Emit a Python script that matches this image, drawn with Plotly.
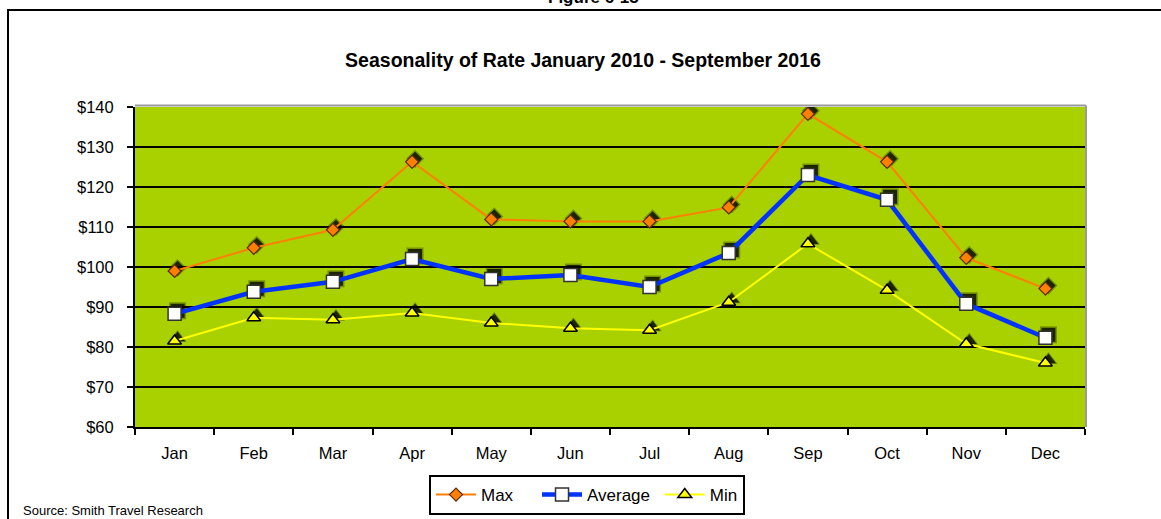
import plotly.graph_objects as go

months = ["Jan", "Feb", "Mar", "Apr", "May", "Jun",
          "Jul", "Aug", "Sep", "Oct", "Nov", "Dec"]
rate_max = [99.0, 104.8, 109.3, 126.3, 111.9, 111.4, 111.4, 114.9, 138.3, 126.3, 102.3, 94.6]
rate_avg = [88.3, 93.8, 96.3, 102.0, 97.0, 98.0, 95.0, 103.5, 123.0, 116.8, 90.8, 82.3]
rate_min = [81.5, 87.3, 86.8, 88.5, 86.0, 84.7, 84.2, 91.2, 105.8, 94.2, 80.8, 76.0]
y_ticks = [60, 70, 80, 90, 100, 110, 120, 130, 140]
y_tick_text = ["$" + str(v) for v in y_ticks]

FONT = "Liberation Sans, Arial, sans-serif"
W, H = 1161, 519
L, R, T, B = 135, 76, 107, 92
plot_w, plot_h = W - L - R, H - T - B

y_lo, y_hi = 60, 140
n = len(months)
# drop-shadow offset in pixels, converted to axis units
sx = 3 / (plot_w / n)
sy = 3 * (y_hi - y_lo) / plot_h

NB = "\u00a0"
series = [
    ("Max" + NB * 4, rate_max, "#FF7F00", 2,
     dict(symbol="diamond", size=10, color="#FF7F00", line=dict(color="#5A2A00", width=1.2))),
    ("Average" + NB, rate_avg, "#0033FF", 4.5,
     dict(symbol="square", size=13, color="#FFFFFF", line=dict(color="#333333", width=1.5))),
    ("Min", rate_min, "#FFFF00", 2,
     dict(symbol="triangle-up", size=12, color="#FFFF00", line=dict(color="#000000", width=1.5))),
]

fig = go.Figure()

# soft marker shadows on the shifted base axes (wide faint halo + dark core)
for name, vals, col, lw, mk in series:
    for extra, alpha in ((4, 0.3), (1, 0.75)):
        fig.add_trace(go.Scatter(
            x=months, y=vals, mode="markers", showlegend=False, hoverinfo="skip",
            marker=dict(symbol=mk["symbol"], size=mk["size"] + extra,
                        color=f"rgba(0,0,0,{alpha})", line=dict(width=0)),
            xaxis="x", yaxis="y"))

# visible series
for name, vals, col, lw, mk in series:
    fig.add_trace(go.Scatter(
        x=months, y=vals, mode="lines+markers", name=name,
        line=dict(color=col, width=lw), marker=mk,
        xaxis="x2", yaxis="y2"))

fig.update_layout(
    width=W, height=H,
    margin=dict(l=L, r=R, t=T, b=B, pad=0, autoexpand=False),
    paper_bgcolor="white",
    plot_bgcolor="#A9D100",
    font=dict(family=FONT, size=16, color="black"),
    title=dict(text="<b>Seasonality of Rate January 2010 - September 2016</b>",
               x=(L + plot_w / 2 - 27) / W, xanchor="center",
               y=1 - 60 / H, yanchor="middle",
               font=dict(family=FONT, size=19.5, color="black")),
    xaxis=dict(type="category", range=[-0.5 - sx, n - 0.5 - sx],
               visible=False, showgrid=False, fixedrange=True),
    yaxis=dict(range=[y_lo - sy, y_hi - sy], visible=False, showgrid=False, fixedrange=True),
    xaxis2=dict(type="category", overlaying="x", anchor="y2", side="bottom",
                range=[-0.5, n - 0.5], showgrid=False,
                showline=True, linecolor="black", linewidth=2,
                ticks="outside", tickson="boundaries", ticklen=6, tickwidth=2,
                tickcolor="black", ticklabelstandoff=10,
                tickfont=dict(family=FONT, size=16.5)),
    yaxis2=dict(overlaying="y", anchor="x2", side="left",
                range=[y_lo, y_hi], tickvals=y_ticks, ticktext=y_tick_text,
                showgrid=True, gridcolor="black", gridwidth=2,
                showline=True, linecolor="black", linewidth=2,
                ticks="outside", ticklen=6, tickwidth=2, tickcolor="black",
                ticklabelstandoff=10, zeroline=False,
                tickfont=dict(family=FONT, size=16.5)),
    legend=dict(orientation="h", x=(587 - L) / plot_w, xanchor="center",
                y=(plot_h - (475 - T)) / plot_h, yanchor="top",
                bordercolor="black", borderwidth=2, bgcolor="white",
                font=dict(family=FONT, size=17), itemwidth=40,
                tracegroupgap=0),
    showlegend=True,
)

def px_x(p):
    return (p - L) / plot_w

def px_y(p):
    return (H - B - p) / plot_h

# outer frame and plot-area edge shading
fig.add_shape(type="rect", xref="paper", yref="paper",
              x0=px_x(8), x1=px_x(W + 20), y0=px_y(H + 20), y1=px_y(10),
              line=dict(color="black", width=2), fillcolor="rgba(0,0,0,0)", layer="below")
fig.add_shape(type="line", xref="paper", yref="paper",
              x0=0, x1=1 + 1 / plot_w, y0=1 + 1.5 / plot_h, y1=1 + 1.5 / plot_h,
              line=dict(color="#9A9A9A", width=2))
fig.add_shape(type="line", xref="paper", yref="paper",
              x0=1 + 1 / plot_w, x1=1 + 1 / plot_w, y0=0, y1=1 + 1.5 / plot_h,
              line=dict(color="#9A9A9A", width=2))

fig.add_annotation(text="<b>Figure 6-15</b>", xref="paper", yref="paper",
                   x=px_x(593), y=px_y(9), xanchor="center", yanchor="bottom",
                   showarrow=False, font=dict(family=FONT, size=17, color="black"))
fig.add_annotation(text="Source: Smith Travel Research", xref="paper", yref="paper",
                   x=px_x(21), y=px_y(510), xanchor="left", yanchor="middle",
                   showarrow=False, font=dict(family=FONT, size=13, color="black"))

fig.write_html("out.html")
